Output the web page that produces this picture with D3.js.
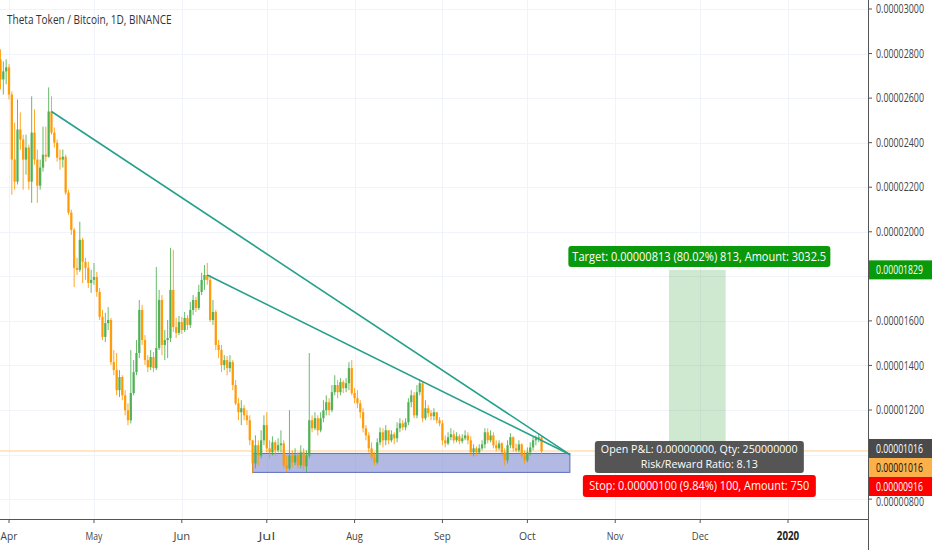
<!DOCTYPE html>
<html><head><meta charset="utf-8">
<script src="https://cdn.jsdelivr.net/npm/d3@7"></script>
<style>body{margin:0;background:#fff}svg{display:block}text{font-family:"Open Sans","Liberation Sans",sans-serif}</style>
</head><body><svg id="c" width="932" height="550"></svg>
<script>
// ---------- data (prices in units of 1e-8 BTC) ----------
const title = "Theta Token / Bitcoin, 1D, BINANCE";
const firstDay = "2019-03-29";
const firstOpen = 2774;
const closes = [
2684,2720,2738,2616,2324,2225,2459,2414,2324,2378,
2225,2445,2324,2207,2288,2346,2337,2540,2445,2400,
2333,2324,2337,2176,2086,2009,1838,1829,1964,1865,
1838,1770,1784,1797,1730,1618,1528,1590,1604,1415,
1379,1289,1348,1266,1199,1154,1276,1370,1456,1649,
1514,1424,1392,1438,1388,1478,1694,1492,1514,1523,
1739,1572,1546,1595,1559,1613,1582,1649,1694,1658,
1730,1784,1806,1784,1604,1640,1492,1469,1402,1424,
1388,1415,1312,1230,1190,1208,1176,1154,1064,960,
1042,996,1064,1132,1028,1010,1055,1019,1042,1050,
952,938,996,965,996,952,1010,947,996,1154,
1118,1163,1109,1163,1199,1235,1199,1280,1312,1280,
1325,1298,1320,1388,1276,1253,1230,1190,1118,1086,
1028,988,965,1055,1100,1064,1109,1064,1091,1073,
1118,1140,1122,1145,1235,1266,1176,1280,1320,1163,
1208,1186,1172,1190,1154,1140,1064,1050,1078,1091,
1064,1082,1060,1073,1086,1064,1010,1028,1010,1028,
1046,1100,1064,1086,1042,1028,1050,1010,974,1042,
1078,1028,1019,1046,996,974,1010,1032,1064,1073,
1078,1016];
const highs = [
2819,2765,2774,2752,2630,2490,2594,2536,2436,2436,
2391,2608,2549,2369,2324,2472,2472,2648,2608,2468,
2414,2369,2369,2346,2189,2099,2018,1883,2045,1973,
1883,1865,1829,1860,1820,1748,1649,1636,1662,1613,
1469,1456,1379,1356,1289,1230,1469,1424,1514,1694,
1672,1536,1446,1469,1460,1842,1739,1716,1559,1604,
1928,1919,1613,1622,1618,1640,1626,1685,1716,1708,
1762,1816,1851,1860,1806,1694,1649,1514,1492,1446,
1442,1446,1424,1334,1253,1244,1222,1199,1176,1064,
1086,1064,1109,1176,1190,1064,1082,1064,1073,1109,
1064,996,1199,1019,1028,1010,1042,1028,1019,1456,
1176,1190,1176,1190,1244,1266,1253,1312,1356,1334,
1343,1334,1343,1415,1424,1298,1289,1244,1208,1132,
1100,1055,1010,1073,1122,1118,1132,1109,1109,1100,
1145,1163,1154,1163,1253,1289,1280,1312,1338,1330,
1244,1222,1199,1208,1190,1168,1154,1086,1100,1118,
1109,1100,1091,1091,1109,1100,1082,1046,1037,1046,
1064,1118,1118,1109,1100,1064,1064,1055,1028,1064,
1096,1082,1050,1064,1050,1019,1032,1055,1082,1086,
1096,1086];
const lows = [
2639,2616,2662,2594,2166,2189,2212,2369,2189,2256,
2189,2130,2301,2130,2189,2270,2315,2333,2436,2378,
2315,2279,2288,2166,2076,1986,1752,1806,1820,1770,
1784,1748,1726,1762,1708,1604,1514,1505,1559,1402,
1356,1266,1258,1244,1176,1132,1140,1266,1356,1433,
1492,1402,1370,1379,1370,1379,1469,1446,1424,1433,
1505,1550,1523,1536,1541,1550,1559,1568,1626,1640,
1649,1716,1739,1762,1595,1582,1469,1433,1370,1379,
1356,1370,1289,1222,1154,1132,1154,1132,1042,916,
938,952,983,1042,1010,983,996,996,1010,1010,
938,920,929,942,952,938,938,929,920,983,
1100,1109,1086,1100,1145,1176,1176,1190,1266,1253,
1266,1276,1280,1289,1266,1230,1208,1163,1100,1064,
1010,974,952,956,1042,1032,1042,1046,1055,1046,
1055,1100,1109,1109,1132,1212,1163,1163,1266,1145,
1154,1168,1154,1154,1140,1127,1042,1032,1042,1064,
1050,1055,1046,1050,1064,1046,996,992,996,1006,
1019,1028,1050,1055,1028,1014,1019,992,952,960,
1028,1014,1010,1010,983,960,965,996,1019,1042,
1055,1002];
// tick labels shown on the price axis (1000 and 1800 sit under the price badges)
const priceTicks = [800,1200,1400,1600,2000,2200,2400,2600,2800,3000];
const gridTicks = [800,1000,1200,1400,1600,1800,2000,2200,2400,2600,2800,3000];
const monthTicks = ["2019-04-01","2019-05-01","2019-06-01","2019-07-01","2019-08-01","2019-09-01","2019-10-01","2019-11-01","2019-12-01","2020-01-01"];
const monthLabels = ["Apr","May","Jun","Jul","Aug","Sep","Oct","Nov","Dec","2020"];
const trendLines = [
  [["2019-04-16",2540],["2019-10-16",1000]],
  [["2019-06-10",1806],["2019-10-16",1000]]
];
const zone = {from:"2019-06-26", to:"2019-10-16", top:1005, bottom:920};
const position = {from:"2019-11-20", to:"2019-12-10", entry:1016, target:1829, stop:916};
const lastPrice = 1016;
const targetText = "Target: 0.00000813 (80.02%) 813, Amount: 3032.5";
const pnlText1 = "Open P&L: 0.00000000, Qty: 250000000";
const pnlText2 = "Risk/Reward Ratio: 8.13";
const stopText = "Stop: 0.00000100 (9.84%) 100, Amount: 750";

// ---------- layout ----------
const W = 932, H = 550, plotR = 868, plotB = 519;
const parse = d3.timeParse("%Y-%m-%d");
const svg = d3.select("#c");
const x = d3.scaleTime().domain([parse("2019-04-01"), parse("2020-01-01")]).range([9, 788]);
const y = d3.scaleLinear().domain([1200, 3000]).range([410, 9]);
const fmt = v => (v * 1e-8).toFixed(8);
const UP = "#4caf50", DOWN = "#ff9800";

// draw a horizontally condensed text (scaled to a given width) via transform
function ctext(parent, str, X, Y, width, anchor, attrs) {
  const t = parent.append("text").attr("x", 0).attr("y", 0).attr("dy", "0.35em").text(str);
  Object.entries(attrs || {}).forEach(([k, v]) => t.attr(k, v));
  const w = t.node().getComputedTextLength();
  const s = width / w;
  const x0 = anchor === "middle" ? X - width / 2 : anchor === "end" ? X - width : X;
  t.attr("transform", `translate(${x0},${Y}) scale(${s},1)`);
  return t;
}

svg.append("defs").append("clipPath").attr("id", "plot")
  .append("rect").attr("x", 0).attr("y", 0).attr("width", plotR).attr("height", plotB);

// grid
const grid = svg.append("g").attr("clip-path", "url(#plot)");
grid.selectAll("line.h").data(gridTicks).join("line")
  .attr("x1", 0).attr("x2", plotR).attr("y1", d => Math.round(y(d)) + 0.5).attr("y2", d => Math.round(y(d)) + 0.5)
  .attr("stroke", "#f0f3fa").attr("stroke-width", 1);
grid.selectAll("line.v").data(monthTicks).join("line")
  .attr("y1", 0).attr("y2", plotB).attr("x1", d => Math.round(x(parse(d))) + 0.5).attr("x2", d => Math.round(x(parse(d))) + 0.5)
  .attr("stroke", "#f0f3fa").attr("stroke-width", 1);

// candles
const start = parse(firstDay);
const candles = closes.map((c, i) => {
  const o = i === 0 ? firstOpen : closes[i - 1];
  return { date: d3.timeDay.offset(start, i), o, c, h: Math.max(highs[i], o, c), l: Math.min(lows[i], o, c) };
});
const plot = svg.append("g").attr("clip-path", "url(#plot)");

// last price line
plot.append("line").attr("x1", 0).attr("x2", plotR)
  .attr("y1", y(lastPrice)).attr("y2", y(lastPrice))
  .attr("stroke", DOWN).attr("stroke-opacity", 0.45).attr("stroke-width", 1);

// zone rectangle
plot.append("rect")
  .attr("x", x(parse(zone.from))).attr("y", y(zone.top))
  .attr("width", x(parse(zone.to)) - x(parse(zone.from)))
  .attr("height", y(zone.bottom) - y(zone.top))
  .attr("fill", "#8390d4").attr("fill-opacity", 0.62)
  .attr("stroke", "#5c6bc0").attr("stroke-width", 1);

const cg = plot.append("g");
cg.selectAll("line").data(candles).join("line")
  .attr("x1", d => x(d.date)).attr("x2", d => x(d.date))
  .attr("y1", d => y(d.h)).attr("y2", d => y(d.l))
  .attr("stroke", d => d.c >= d.o ? UP : DOWN).attr("stroke-width", 1).attr("stroke-opacity", 0.85);
cg.selectAll("rect").data(candles).join("rect")
  .attr("x", d => x(d.date) - 1.15).attr("width", 2.3)
  .attr("y", d => y(Math.max(d.o, d.c)))
  .attr("height", d => Math.max(1, Math.abs(y(d.o) - y(d.c))))
  .attr("fill", d => d.c >= d.o ? UP : DOWN).attr("fill-opacity", 0.92);

// trend lines
const lineGen = d3.line().x(d => x(parse(d[0]))).y(d => y(d[1]));
plot.selectAll("path.trend").data(trendLines).join("path")
  .attr("d", lineGen).attr("fill", "none").attr("stroke", "#26a08c").attr("stroke-width", 1.6);

// position tool
const px0 = x(parse(position.from)), px1 = x(parse(position.to));
plot.append("rect").attr("x", px0).attr("width", px1 - px0)
  .attr("y", y(position.target)).attr("height", y(position.entry) - y(position.target))
  .attr("fill", "#4caf50").attr("fill-opacity", 0.27);
plot.append("rect").attr("x", px0).attr("width", px1 - px0)
  .attr("y", y(position.entry)).attr("height", y(position.stop) - y(position.entry))
  .attr("fill", "#f44336").attr("fill-opacity", 0.2);

const cx = (px0 + px1) / 2 + 2;
function box(y0, h, w, fill, lines, widths, fs, lh) {
  const g = plot.append("g");
  g.append("rect").attr("x", cx - w / 2).attr("y", y0).attr("width", w).attr("height", h)
    .attr("rx", 3).attr("fill", fill);
  const t0 = y0 + h / 2 - (lines.length - 1) * lh / 2;
  lines.forEach((s, i) => ctext(g, s, cx, t0 + i * lh, widths[i], "middle", {"font-size": fs, fill: "#fff"}));
}
box(246, 21, 262, "#0a990a", [targetText], [254], 12.5, 0);
box(441, 32, 209, "#555555", [pnlText1, pnlText2], [197, 117], 10.6, 14.6);
box(475, 22, 233, "#ff0000", [stopText], [220], 12.5, 0);

// title
ctext(svg, title, 7, 19, 165, "start", {"font-size": 13.5, fill: "#333"});

// right axis
svg.append("line").attr("x1", plotR + 0.5).attr("x2", plotR + 0.5).attr("y1", 0).attr("y2", H)
  .attr("stroke", "#555").attr("stroke-width", 1);
const ra = svg.append("g");
ra.selectAll("line").data(gridTicks).join("line")
  .attr("x1", plotR).attr("x2", plotR + 4).attr("y1", d => y(d)).attr("y2", d => y(d))
  .attr("stroke", "#555");
priceTicks.forEach(v => ctext(ra, fmt(v), 876, v === 800 ? y(v) + 3 : y(v), 48, "start", {"font-size": 12, fill: "#444"}));

function axisLabel(yc, value, fill, color) {
  const g = svg.append("g");
  g.append("rect").attr("x", plotR + 1).attr("y", yc - 9.5).attr("width", W - plotR - 1).attr("height", 19).attr("fill", fill);
  ctext(g, fmt(value), 876, yc, 47, "start", {"font-size": 12, fill: color});
}
axisLabel(y(position.target), position.target, "#0a990a", "#fff");
axisLabel(y(position.entry) - 2.5, position.entry, "#4a4a4a", "#fff");
axisLabel(y(position.entry) + 16.5, lastPrice, "#fbb04a", "#111");
axisLabel(y(position.entry) + 35.5, position.stop, "#ff0000", "#fff");

// bottom axis
svg.append("line").attr("x1", 0).attr("x2", plotR).attr("y1", plotB + 0.5).attr("y2", plotB + 0.5)
  .attr("stroke", "#555").attr("stroke-width", 1);
const ba = svg.append("g");
ba.selectAll("line").data(monthTicks).join("line")
  .attr("x1", d => x(parse(d))).attr("x2", d => x(parse(d))).attr("y1", plotB).attr("y2", plotB + 4)
  .attr("stroke", "#555");
monthTicks.forEach((d, i) => {
  const lbl = monthLabels[i];
  ctext(ba, lbl, x(parse(d)), 536, lbl.length * 5.6, "middle",
    {"font-size": 11.5, fill: i === 9 ? "#222" : "#444", "font-weight": i === 9 ? "bold" : "normal"});
});
</script></body></html>
